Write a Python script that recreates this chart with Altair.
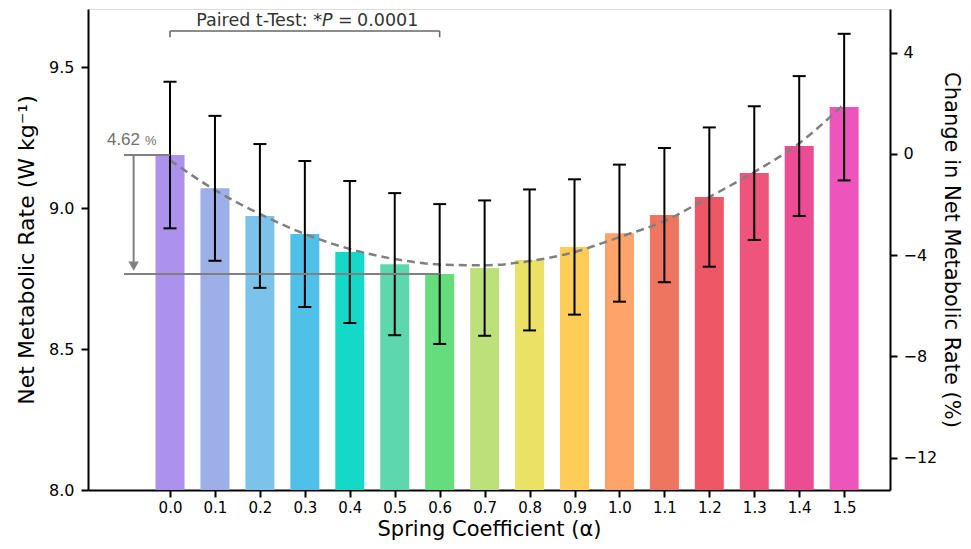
import altair as alt
import pandas as pd

# ---------------- data ----------------
ALPHA = [0.0, 0.1, 0.2, 0.3, 0.4, 0.5, 0.6, 0.7, 0.8, 0.9, 1.0, 1.1, 1.2, 1.3, 1.4, 1.5]
TICK_LABELS = ["0.0", "0.1", "0.2", "0.3", "0.4", "0.5", "0.6", "0.7",
               "0.8", "0.9", "1.0", "1.1", "1.2", "1.3", "1.4", "1.5"]
RATE = [9.188, 9.070, 8.972, 8.908, 8.844, 8.801, 8.766, 8.787,
        8.816, 8.862, 8.911, 8.975, 9.039, 9.124, 9.220, 9.358]
SD = [0.260, 0.257, 0.255, 0.259, 0.252, 0.252, 0.248, 0.240,
      0.250, 0.240, 0.243, 0.238, 0.247, 0.237, 0.248, 0.260]
FIT = [9.170, 9.064, 8.979, 8.908, 8.855, 8.819, 8.800, 8.797,
       8.812, 8.844, 8.897, 8.954, 9.039, 9.128, 9.230, 9.369]
Y_TICKS = [8.0, 8.5, 9.0, 9.5]
PCT_TICKS = [4, 0, -4, -8, -12]

COLORS = ["#AC92EB", "#9DAFE7", "#7CC3EA", "#4FC0E8", "#14D9C8", "#5DD8AE",
          "#66DD7D", "#BEE07A", "#EBE165", "#FECD56", "#FEA46A", "#EE755F",
          "#EE5766", "#EF557C", "#EC4C94", "#ED54BC"]

X_DOMAIN = [-0.1825, 1.602]
Y_DOMAIN = [8.0, 9.706]
PCT_DOMAIN = [-13.28, 5.73]

df = pd.DataFrame({"alpha": ALPHA, "label": TICK_LABELS, "rate": RATE,
                   "sd": SD, "fit": FIT})
df["lo"] = df["rate"] - df["sd"]
df["hi"] = df["rate"] + df["sd"]

FONT = "DejaVu Sans"
xs = alt.Scale(domain=X_DOMAIN, nice=False, zero=False, padding=0)
ys = alt.Scale(domain=Y_DOMAIN, nice=False, zero=False, padding=0)

axis_common = dict(grid=False, domainColor="black", domainWidth=2,
                   tickColor="black", tickWidth=2, tickSize=7,
                   labelColor="black", labelFont=FONT,
                   titleFont=FONT, titleFontWeight="normal",
                   titleColor="black")

x_axis = alt.Axis(values=ALPHA, format=".1f", title="Spring Coefficient (α)",
                  labelFontSize=15, titleFontSize=21, titlePadding=3,
                  labelPadding=3, **axis_common)
y_axis = alt.Axis(values=Y_TICKS, format=".1f",
                  title="Net Metabolic Rate (W kg⁻¹)", labelFontSize=16,
                  titleFontSize=22, titlePadding=10, labelPadding=7,
                  **axis_common)

base = alt.Chart(df)

bars = base.mark_bar(size=29).encode(
    x=alt.X("alpha:Q", scale=xs, axis=x_axis),
    y=alt.Y("rate:Q", scale=ys, axis=y_axis),
    y2=alt.datum(Y_DOMAIN[0]),
    color=alt.Color("label:N", scale=alt.Scale(domain=TICK_LABELS, range=COLORS),
                    legend=None),
)

Xs = alt.X("alpha:Q", scale=xs)
err = base.mark_rule(color="black", strokeWidth=2).encode(
    x=Xs, y=alt.Y("lo:Q", scale=ys), y2="hi:Q")
cap_hi = base.mark_tick(orient="horizontal", size=13, thickness=2,
                        color="black", opacity=1).encode(
    x=Xs, y=alt.Y("hi:Q", scale=ys))
cap_lo = base.mark_tick(orient="horizontal", size=13, thickness=2,
                        color="black", opacity=1).encode(
    x=Xs, y=alt.Y("lo:Q", scale=ys))

fit_line = base.mark_line(color="#808080", strokeDash=[8, 5], strokeWidth=2.5,
                          interpolate="monotone").encode(
    x=Xs, y=alt.Y("fit:Q", scale=ys))

# ---------------- annotations ----------------
one = pd.DataFrame({"k": [0]})
ann = alt.Chart(one)
top_val = RATE[0]
min_val = min(RATE)
min_alpha = ALPHA[RATE.index(min_val)]


def rule(x, x2, y, y2=None, color="#808080", w=2):
    enc = dict(x=alt.datum(x), y=alt.datum(y))
    if x2 is not None:
        enc["x2"] = alt.datum(x2)
    if y2 is not None:
        enc["y2"] = alt.datum(y2)
    return ann.mark_rule(color=color, strokeWidth=w).encode(**enc)


brk_y, brk_y2 = 9.628, 9.606
bracket = [
    rule(ALPHA[0], min_alpha, brk_y, color="#666666", w=1.5),
    rule(ALPHA[0], None, brk_y, brk_y2, color="#666666", w=1.5),
    rule(min_alpha, None, brk_y, brk_y2, color="#666666", w=1.5),
]

ptxt_x, ptxt_y = 0.3383, 9.645
TXT = dict(baseline="alphabetic", fontSize=17.5, font=FONT, color="#333333")
t1 = ann.mark_text(align="right", dx=0, text="Paired t-Test: *", **TXT).encode(
    x=alt.datum(ptxt_x), y=alt.datum(ptxt_y))
t2 = ann.mark_text(align="left", fontStyle="italic", text="P", **TXT).encode(
    x=alt.datum(ptxt_x), y=alt.datum(ptxt_y))
t3 = ann.mark_text(align="left", dx=16, text="=", **TXT).encode(
    x=alt.datum(ptxt_x), y=alt.datum(ptxt_y))
t4 = ann.mark_text(align="left", dx=35, text="0.0001", **TXT).encode(
    x=alt.datum(ptxt_x), y=alt.datum(ptxt_y))

arrow_x = -0.081
drop = [
    rule(-0.1024, ALPHA[0], top_val),
    rule(-0.1024, min_alpha, min_val),
    rule(arrow_x, None, top_val, min_val + 0.04),
]
head = ann.mark_point(shape="triangle-down", filled=True, size=110,
                      color="#808080", opacity=1).encode(
    x=alt.datum(arrow_x), y=alt.datum(min_val + 0.028))

pct_x, pct_y = -0.0623, 9.2234
p1 = ann.mark_text(align="right", baseline="alphabetic", fontSize=17,
                   font="Liberation Sans", color="#707070", dx=-2,
                   text="4.62").encode(x=alt.datum(pct_x), y=alt.datum(pct_y))
p2 = ann.mark_text(align="left", baseline="alphabetic", fontSize=13,
                   font="Liberation Sans", color="#707070", dx=3,
                   text="%").encode(x=alt.datum(pct_x), y=alt.datum(pct_y))

left = alt.layer(bars, fit_line, err, cap_hi, cap_lo, *bracket, t1, t2, t3, t4,
                 *drop, head, p1, p2)

# ---------------- right axis ----------------
right_axis = alt.Axis(orient="right", values=PCT_TICKS,
                      labelExpr="datum.value < 0 ? '−' + format(-datum.value, 'd') : format(datum.value, 'd')",
                      title="Change in Net Metabolic Rate (%)", titleAngle=90,
                      labelFontSize=16, titleFontSize=21, titlePadding=4,
                      labelPadding=6, **axis_common)
right = alt.Chart(pd.DataFrame({"pct": PCT_TICKS})).mark_point(opacity=0).encode(
    y=alt.Y("pct:Q", scale=alt.Scale(domain=PCT_DOMAIN, nice=False, zero=False),
            axis=right_axis))

chart = alt.layer(left, right).resolve_scale(y="independent").properties(
    width=802, height=481,
    padding={"left": 80, "top": 1, "right": 73, "bottom": 51},
    autosize=alt.AutoSizeParams(type="none"),
).configure_view(stroke="transparent", strokeWidth=0).configure(
    font=FONT, background="white")

chart.save("out.html", embed_options={"renderer": "svg", "actions": False})
